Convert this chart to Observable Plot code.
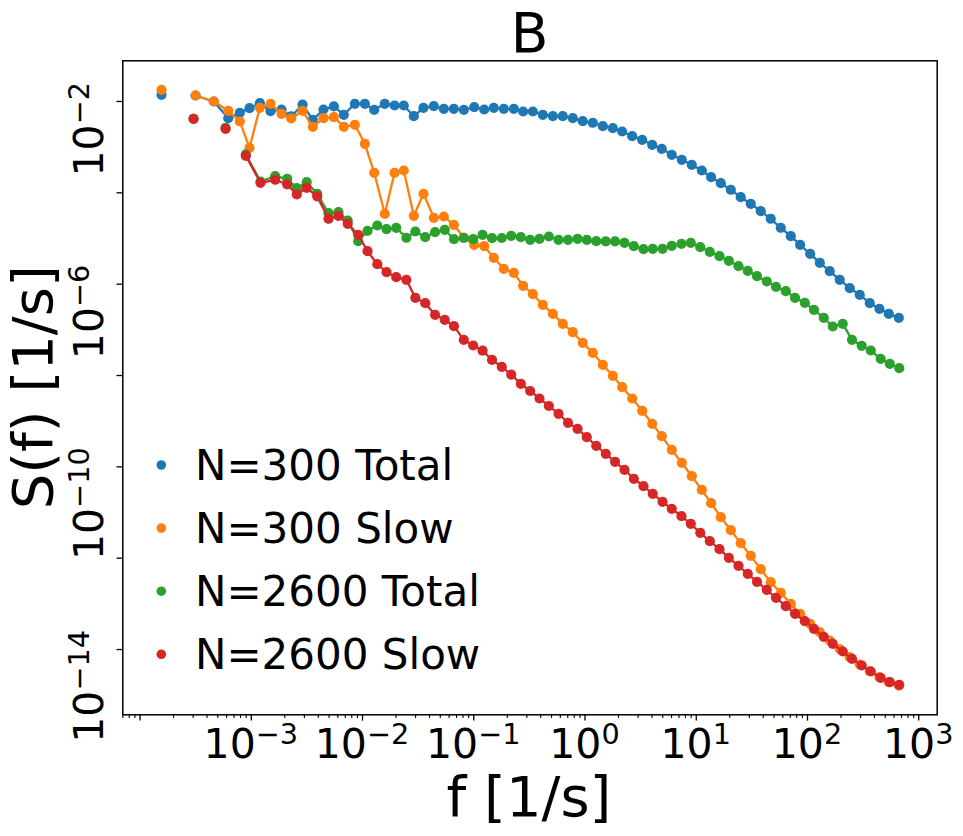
<!DOCTYPE html>
<html><head><meta charset="utf-8">
<script src="https://cdn.jsdelivr.net/npm/d3@7"></script>
<script src="https://cdn.jsdelivr.net/npm/@observablehq/plot@0.6"></script>
<style>body{margin:0;background:#fff} svg{display:block}</style>
</head><body><div id="chart"></div>
<script>
// ---- data (log10 values) ----
const logF300 = [-3.807, -3.501, -3.337, -3.207, -3.103, -3.016, -2.923, -2.827, -2.728, -2.641,
 -2.539, -2.447, -2.351, -2.258, -2.168, -2.069, -1.979, -1.895, -1.800, -1.712,
 -1.629, -1.539, -1.452, -1.359, -1.269, -1.179, -1.089, -0.996, -0.906, -0.820,
 -0.730, -0.640, -0.556, -0.469, -0.379, -0.289, -0.200, -0.110, -0.020, 0.070,
 0.160, 0.250, 0.334, 0.424, 0.514, 0.604, 0.690, 0.780, 0.870, 0.960,
 1.050, 1.134, 1.221, 1.311, 1.400, 1.490, 1.580, 1.670, 1.760, 1.850,
 1.934, 2.024, 2.111, 2.200, 2.290, 2.380, 2.470, 2.560, 2.647, 2.731, 2.821];
const logS300Total = [-1.853, -1.869, -2.000, -2.366, -2.247, -2.147, -2.037, -2.212, -2.175, -2.328,
 -2.066, -2.401, -2.175, -2.109, -2.291, -2.050, -2.050, -2.182, -2.050, -2.088,
 -2.088, -2.322, -2.138, -2.103, -2.160, -2.160, -2.182, -2.125, -2.175, -2.138,
 -2.160, -2.160, -2.219, -2.219, -2.291, -2.322, -2.322, -2.366, -2.431, -2.466,
 -2.541, -2.585, -2.657, -2.760, -2.839, -2.948, -3.037, -3.167, -3.277, -3.386,
 -3.511, -3.658, -3.789, -3.933, -4.095, -4.240, -4.402, -4.568, -4.765, -4.949,
 -5.138, -5.335, -5.532, -5.716, -5.904, -6.088, -6.233, -6.416, -6.539, -6.649, -6.736];
const logS300Slow = [-1.744, -1.869, -2.000, -2.204, -2.438, -3.014, -2.138, -2.050, -2.269, -2.372,
 -2.204, -2.554, -2.366, -2.344, -2.554, -2.510, -2.926, -3.561, -4.459, -3.561,
 -3.511, -4.503, -4.021, -4.547, -4.518, -4.700, -4.984, -5.138, -5.168, -5.422,
 -5.663, -5.751, -6.036, -6.219, -6.452, -6.649, -6.868, -7.052, -7.284, -7.503,
 -7.765, -8.006, -8.256, -8.503, -8.773, -9.057, -9.329, -9.627, -9.911, -10.205,
 -10.503, -10.796, -11.102, -11.387, -11.672, -11.948, -12.241, -12.526, -12.758, -12.998,
 -13.217, -13.436, -13.620, -13.802, -13.993, -14.168, -14.328, -14.474, -14.606, -14.715, -14.788];
const logF2600 = [-3.519, -3.231, -3.049, -2.917, -2.785, -2.677, -2.591, -2.502, -2.407, -2.306,
 -2.216, -2.133, -2.039, -1.955, -1.867, -1.784, -1.697, -1.606, -1.525, -1.436,
 -1.348, -1.261, -1.178, -1.090, -1.005, -0.921, -0.836, -0.748, -0.663, -0.577,
 -0.493, -0.409, -0.325, -0.238, -0.153, -0.067, 0.016, 0.101, 0.187, 0.270,
 0.355, 0.439, 0.526, 0.609, 0.697, 0.780, 0.867, 0.951, 1.036, 1.122,
 1.209, 1.293, 1.380, 1.463, 1.546, 1.634, 1.717, 1.805, 1.888, 1.976,
 2.058, 2.146, 2.227, 2.317, 2.400, 2.487, 2.569, 2.658, 2.740, 2.825];
const logS2600Total = [-2.379, -2.576, -3.160, -3.752, -3.636, -3.693, -3.898, -3.767, -4.021, -4.446,
 -4.424, -4.606, -5.059, -4.831, -4.715, -4.796, -4.766, -4.984, -4.847, -4.971,
 -4.862, -4.809, -5.015, -4.984, -5.015, -4.919, -4.993, -4.989, -4.941, -4.971,
 -5.028, -5.006, -4.956, -5.028, -5.028, -5.006, -5.028, -5.059, -5.065, -5.065,
 -5.094, -5.168, -5.234, -5.225, -5.225, -5.160, -5.116, -5.094, -5.190, -5.291,
 -5.387, -5.488, -5.606, -5.707, -5.825, -5.941, -6.057, -6.153, -6.298, -6.408,
 -6.561, -6.736, -6.927, -6.868, -7.218, -7.349, -7.452, -7.634, -7.743, -7.840];
const logS2600Slow = [-2.379, -2.598, -3.189, -3.780, -3.714, -3.817, -4.036, -3.890, -4.080, -4.568,
 -4.503, -4.678, -4.919, -5.278, -5.563, -5.738, -5.847, -5.904, -6.298, -6.416,
 -6.671, -6.780, -6.920, -7.218, -7.343, -7.457, -7.656, -7.813, -7.982, -8.181,
 -8.339, -8.503, -8.667, -8.838, -9.035, -9.167, -9.351, -9.539, -9.714, -9.889,
 -10.064, -10.261, -10.423, -10.590, -10.765, -10.918, -11.080, -11.247, -11.444, -11.628,
 -11.803, -11.991, -12.167, -12.342, -12.517, -12.692, -12.867, -13.051, -13.217, -13.379,
 -13.546, -13.721, -13.874, -14.043, -14.203, -14.349, -14.481, -14.619, -14.715, -14.772];

const seriesNames = ["N=300 Total", "N=300 Slow", "N=2600 Total", "N=2600 Slow"];
const seriesColors = ["#1f77b4", "#ff7f0e", "#2ca02c", "#d62728"];
// the first point(s) of each series are drawn without a connecting line
const lineStartIndex = [1, 1, 2, 2];
const xTickExponents = [-4, -3, -2, -1, 0, 1, 2, 3];
const xLabelExponents = [-3, -2, -1, 0, 1, 2, 3];
const yTickExponents = [-2, -4, -6, -8, -10, -12, -14];
const yLabelExponents = [-2, -6, -10, -14];
const titleText = "B", xLabel = "f [1/s]", yLabel = "S(f) [1/s]";

// ---- build ----
const FONT = "DejaVu Sans";
const W = 963, H = 836;
const mL = 122.3, mR = 26.3, mT = 60.3, mB = 121.7;
const xDomain = [10 ** -4.155, 10 ** 3.166];
const yDomain = [10 ** -15.429, 10 ** -1.109];

const toRows = (lf, ls, name) => lf.map((f, i) => ({f: 10 ** f, s: 10 ** ls[i], name}));
const series = [
  toRows(logF300, logS300Total, seriesNames[0]),
  toRows(logF300, logS300Slow, seriesNames[1]),
  toRows(logF2600, logS2600Total, seriesNames[2]),
  toRows(logF2600, logS2600Slow, seriesNames[3])
];

const xMajor = xTickExponents.map(e => 10 ** e);
const xMinor = [];
for (let e = -5; e < 3; e++) for (let k = 2; k < 10; k++) {
  const v = k * 10 ** e;
  if (v >= xDomain[0] && v <= xDomain[1]) xMinor.push(v);
}
const yMajor = yTickExponents.map(e => 10 ** e);

const plot = Plot.plot({
  width: W, height: H,
  marginLeft: mL, marginRight: mR, marginTop: mT, marginBottom: mB,
  x: {type: "log", domain: xDomain, label: null},
  y: {type: "log", domain: yDomain, label: null},
  style: {fontFamily: FONT, background: "white"},
  marks: [
    Plot.axisX(xMinor, {anchor: "bottom", tickSize: 3.6, tickFormat: () => "", strokeWidth: 1.1, label: null}),
    Plot.axisX(xMajor, {anchor: "bottom", tickSize: 6.3, tickFormat: () => "", strokeWidth: 1.3, label: null}),
    Plot.axisY(yMajor, {anchor: "left", tickSize: 5.8, tickFormat: () => "", strokeWidth: 1.3, label: null}),
    ...series.flatMap((d, i) => [
      Plot.line(d.slice(lineStartIndex[i]), {x: "f", y: "s", stroke: seriesColors[i], strokeWidth: 2.3}),
      Plot.dot(d, {x: "f", y: "s", r: 5.1, fill: seriesColors[i]})
    ]),
    Plot.frame({stroke: "black", strokeWidth: 1.5})
  ]
});
document.getElementById("chart").appendChild(plot);

const svg = d3.select(plot);
const sx = plot.scale("x"), sy = plot.scale("y");
const g = svg.append("g").attr("font-family", FONT).attr("fill", "black");

function powLabel(sel, exp, size) {
  sel.append("tspan").text("10");
  sel.append("tspan").attr("font-size", size * 0.7).attr("dy", -size * 0.34)
     .text(String(exp).replace("-", "\u2212"));
}
// x tick labels
xLabelExponents.forEach(e => {
  const t = g.append("text").attr("x", sx.apply(10 ** e)).attr("y", 758.3)
    .attr("text-anchor", "middle").attr("font-size", 41);
  powLabel(t, e, 41);
});
// y tick labels (rotated)
yLabelExponents.forEach(e => {
  const t = g.append("text")
    .attr("transform", `translate(103,${sy.apply(10 ** e) - 19}) rotate(-90)`)
    .attr("text-anchor", "end").attr("font-size", 41);
  powLabel(t, e, 41);
});
// title and axis labels
g.append("text").attr("x", (mL + W - mR) / 2).attr("y", 51.7).attr("text-anchor", "middle")
  .attr("font-size", 55).text(titleText);
g.append("text").attr("x", 529).attr("y", 816).attr("text-anchor", "middle")
  .attr("font-size", 56).text(xLabel);
g.append("text").attr("transform", `translate(52,${(mT + H - mB) / 2}) rotate(-90)`)
  .attr("text-anchor", "middle").attr("font-size", 56).text(yLabel);
// legend
seriesNames.forEach((name, i) => {
  const base = 480 + 63.1 * i;
  g.append("circle").attr("cx", 161.3).attr("cy", base - 15).attr("r", 4.8).attr("fill", seriesColors[i]);
  g.append("text").attr("x", 195).attr("y", base).attr("text-anchor", "start")
    .attr("font-size", 42).text(name);
});
</script>
</body></html>
